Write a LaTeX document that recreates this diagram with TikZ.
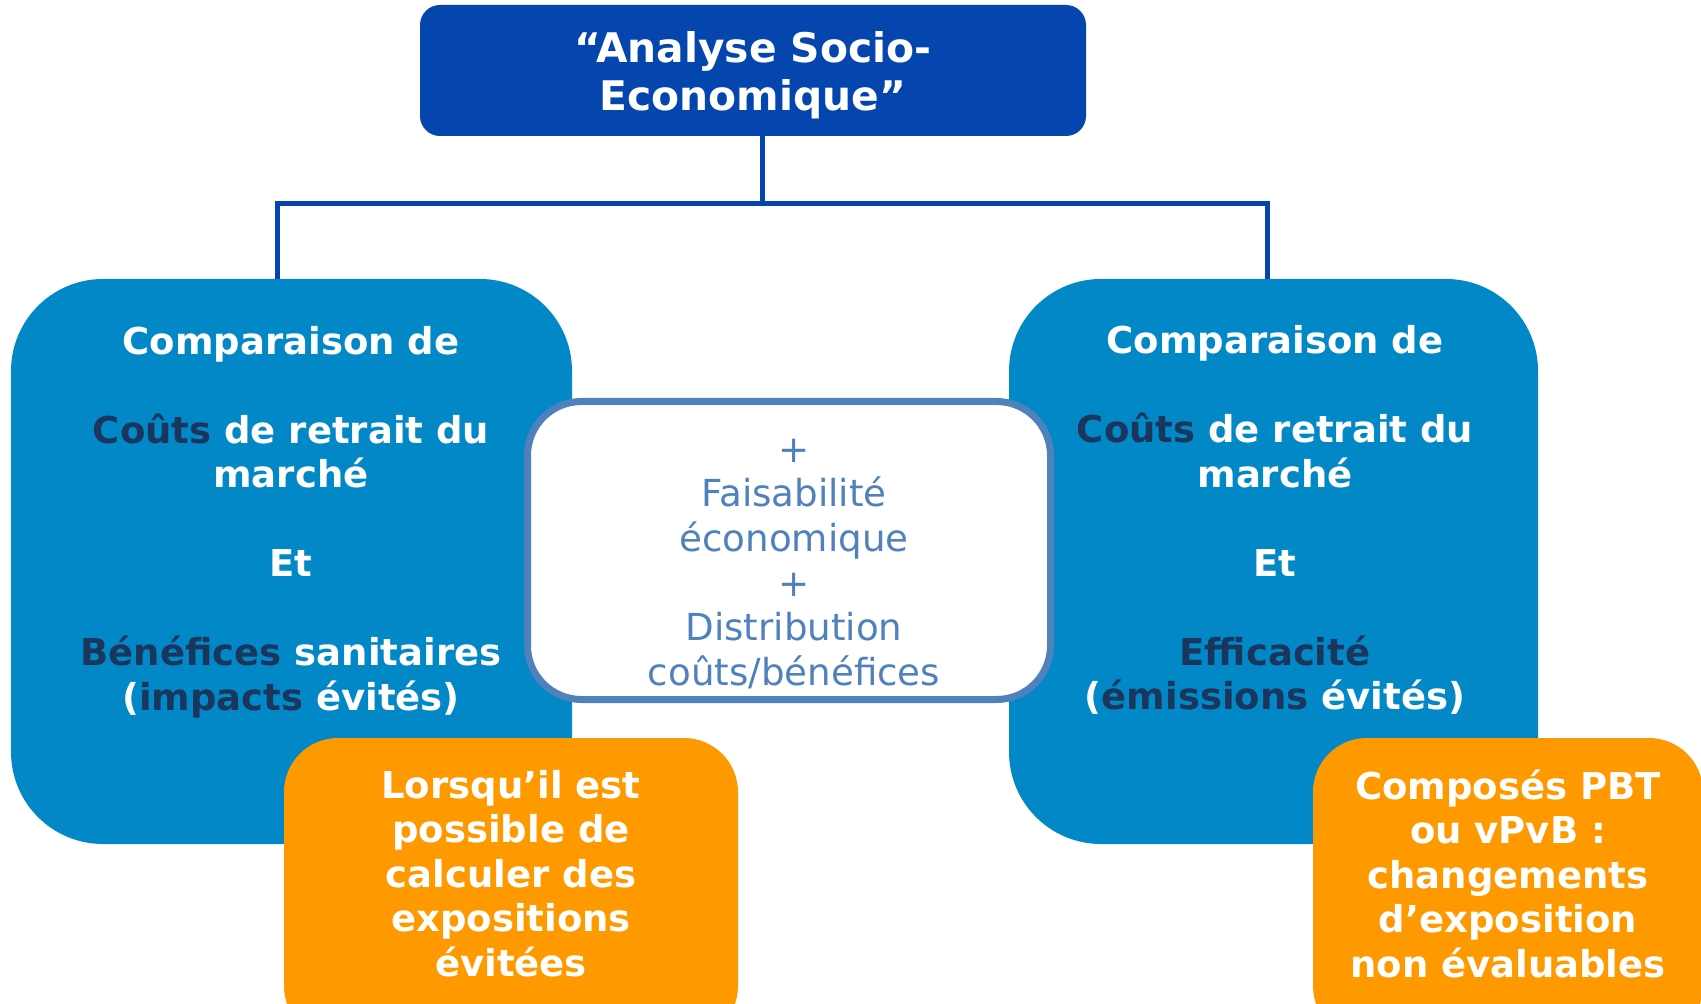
\documentclass[tikz,border=0pt]{standalone}
\usepackage{fontspec}
\setmainfont{DejaVu Sans}
\definecolor{topblue}{HTML}{0446AD}
\definecolor{boxblue}{HTML}{0288C7}
\definecolor{navy}{HTML}{1B365D}
\definecolor{orangebox}{HTML}{FF9900}
\definecolor{midblue}{HTML}{4F81BD}
\begin{document}
\begin{tikzpicture}[x=0.5pt,y=-0.5pt,
  conn/.style={draw=topblue,line width=2.5pt},
  titlebox/.style={fill=topblue,rounded corners=10pt,inner sep=0pt},
  bluebox/.style={fill=boxblue,rounded corners=46pt,inner sep=0pt},
  whitebox/.style={fill=white,draw=midblue,line width=3.5pt,rounded corners=27pt,inner sep=0pt},
  orbox/.style={fill=orangebox,rounded corners=27pt,inner sep=0pt},
  boldtxt/.style={text=white,font=\bfseries\fontsize{18.5}{22.25}\selectfont,align=center,inner sep=0pt},
  midtxt/.style={text=midblue,font=\fontsize{18.6}{22.35}\selectfont,align=center,inner sep=0pt},
  titletxt/.style={text=white,font=\bfseries\fontsize{20.4}{24}\selectfont,align=center,inner sep=0pt}]
\useasboundingbox (0,0) rectangle (1701,1004);
\clip (0,0) rectangle (1701,1004);
\fill[white] (0,0) rectangle (1701,1004);

% title
\node[titlebox,minimum width=333pt,minimum height=65.5pt] (top) at (753,70.5) {};
\node[titletxt] (toptxt) at (753,75.5) {“Analyse Socio-\\Economique”};

% connectors
\coordinate (hub) at (762,204);
\coordinate (jl) at (277,204);
\coordinate (jr) at (1267,204);

% blue boxes
\node[bluebox,minimum width=280.5pt,minimum height=282.5pt] (lbox) at (291.5,561.5) {};
\node[bluebox,minimum width=264.5pt,minimum height=282.5pt] (rbox) at (1273.5,561.5) {};

\draw[conn] (top.south -| hub) -- (hub);
\draw[conn] ([xshift=-1.25pt]jl) -- ([xshift=1.25pt]jr);
\draw[conn] (jl) -- (lbox.north -| jl);
\draw[conn] (jr) -- (rbox.north -| jr);

\node[boldtxt] (ltxt) at (291,522) {Comparaison de\\[22.25pt]
  \textcolor{navy}{Coûts} de retrait du\\marché\\[22.25pt]
  Et\\[22.25pt]
  \textcolor{navy}{Bénéfices} sanitaires\\(\textcolor{navy}{impacts} évités)};
\node[boldtxt] (rtxt) at (1275,520) {Comparaison de\\[22.25pt]
  \textcolor{navy}{Coûts} de retrait du\\marché\\[22.25pt]
  Et\\[22.25pt]
  \textcolor{navy}{Efficacité}\\(\textcolor{navy}{émissions} évités)};

% centre box
\node[whitebox,minimum width=261.5pt,minimum height=149pt] (cbox) at (789,550.5) {};
\node[midtxt] (ctxt) at (794,564) {+\\Faisabilité\\économique\\+\\Distribution\\coûts/bénéfices};

% orange boxes
\node[orbox,minimum width=227pt,minimum height=151pt] (lor) at (511,889) {};
\node[boldtxt] (lortxt) at (511,873.5) {Lorsqu’il est\\possible de\\calculer des\\expositions\\évitées};
\node[orbox,minimum width=195pt,minimum height=151pt] (ror) at (1508,889) {};
\node[boldtxt] (rortxt) at (1508,873.5) {Composés PBT\\ou vPvB :\\changements\\d’exposition\\non évaluables};
\end{tikzpicture}
\end{document}
